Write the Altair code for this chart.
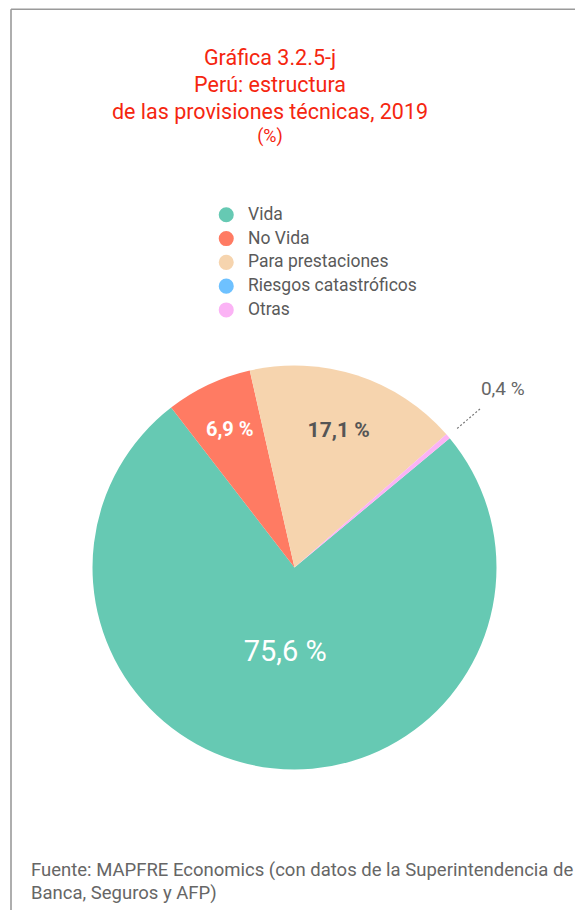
import math
import altair as alt
import pandas as pd

# ---- data ----
categories = ["Vida", "No Vida", "Para prestaciones", "Riesgos catastróficos", "Otras"]
values = [75.6, 6.9, 17.1, 0.0, 0.4]
colors = ["#66C9B3", "#FF7B63", "#F6D4AE", "#6EC1FF", "#FBB3F5"]
label_texts = ["75,6 %", "6,9 %", "17,1 %", "", "0,4 %"]

title_lines = ["Gráfica 3.2.5-j", "Perú: estructura", "de las provisiones técnicas, 2019"]
title_unit = "(%)"
source_lines = ["Fuente: MAPFRE Economics (con datos de la Superintendencia de",
                "Banca, Seguros y AFP)"]

df = pd.DataFrame({
    "category": categories,
    "value": values,
    "label": label_texts,
    "order": list(range(len(categories))),
})

W, H = 567, 902
CX, CY = 286.5, 559.5
R = 202
START = math.radians(50.2)
theta_scale = alt.Scale(domain=[0, 100], range=[START, START + 2 * math.pi])
FONT = "Roboto"
TX = 262

base = alt.Chart(df)

pie = base.mark_arc(outerRadius=R).encode(
    x=alt.value(CX), y=alt.value(CY),
    theta=alt.Theta("value:Q", stack=True, scale=theta_scale),
    color=alt.Color(
        "category:N",
        scale=alt.Scale(domain=categories, range=colors),
        sort=categories,
        legend=alt.Legend(
            title=None, orient="none", legendX=209.5, legendY=198,
            symbolType="circle", symbolSize=227, symbolStrokeWidth=0,
            labelFont=FONT, labelFontSize=17.5, labelColor="#5a5a5a",
            labelOffset=13, labelLimit=400, rowPadding=4.8, padding=0,
        ),
    ),
    order=alt.Order("order:Q"),
)

mid = base.transform_window(
    cum="sum(value)", sort=[alt.SortField("order")]
).transform_calculate(mid="datum.cum - datum.value / 2")


def slice_label(cat, radius, size, weight, color):
    return mid.transform_filter(alt.datum.category == cat).mark_text(
        radius=radius, font=FONT, fontSize=size, fontWeight=weight,
        color=color, align="center", baseline="middle",
    ).encode(
        x=alt.value(CX), y=alt.value(CY),
        theta=alt.Theta("mid:Q", scale=theta_scale),
        text="label:N",
    )


lab_vida = slice_label("Vida", 85, 29, "normal", "white")
lab_novida = slice_label("No Vida", 152, 20, "bold", "white")
lab_para = slice_label("Para prestaciones", 143, 21, "bold", "#555555")
lab_otras = slice_label("Otras", 274, 19, "normal", "#666666")

a_expr = f"{START} + datum.mid / 100 * 2 * PI"
leader = mid.transform_filter(alt.datum.category == "Otras").transform_calculate(
    ang=a_expr
).transform_calculate(
    lx1=f"{CX} + 214 * sin(datum.ang)", ly1=f"{CY} - 214 * cos(datum.ang)",
    lx2=f"{CX} + 244 * sin(datum.ang)", ly2=f"{CY} - 244 * cos(datum.ang)",
).mark_rule(color="#777777", strokeDash=[2, 2], strokeWidth=1.2).encode(
    x=alt.X("lx1:Q", scale=None), y=alt.Y("ly1:Q", scale=None),
    x2="lx2:Q", y2="ly2:Q",
)

title_layers = []
for i, line in enumerate(title_lines):
    title_layers.append(
        alt.Chart(pd.DataFrame({"t": [line]})).mark_text(
            font=FONT, fontSize=21.5, color="#F5260F",
            align="center", baseline="middle"
        ).encode(x=alt.value(TX), y=alt.value(51 + i * 27), text="t:N")
    )
title_layers.append(
    alt.Chart(pd.DataFrame({"t": [title_unit]})).mark_text(
        font=FONT, fontSize=18, color="#F5260F",
        align="center", baseline="middle"
    ).encode(x=alt.value(TX), y=alt.value(129), text="t:N")
)

source_layers = []
for i, line in enumerate(source_lines):
    source_layers.append(
        alt.Chart(pd.DataFrame({"t": [line]})).mark_text(
            font=FONT, fontSize=18.5, color="#666666", align="left", baseline="middle"
        ).encode(x=alt.value(23), y=alt.value(862 + i * 23), text="t:N")
    )

frame_top = alt.Chart(pd.DataFrame({"a": [0]})).mark_rule(
    color="#9a9a9a", strokeWidth=1.6
).encode(x=alt.value(3), x2=alt.value(W), y=alt.value(1.2), y2=alt.value(1.2))
frame_left = alt.Chart(pd.DataFrame({"a": [0]})).mark_rule(
    color="#9a9a9a", strokeWidth=1.6
).encode(x=alt.value(3), x2=alt.value(3), y=alt.value(1.2), y2=alt.value(H))

chart = alt.layer(
    frame_top, frame_left, pie, leader,
    lab_vida, lab_novida, lab_para, lab_otras,
    *title_layers, *source_layers,
).properties(
    width=W, height=H, autosize=alt.AutoSizeParams(type="none"), padding=0,
).configure_view(stroke=None)

chart.save("out.html", embed_options={"renderer": "svg", "actions": False})
